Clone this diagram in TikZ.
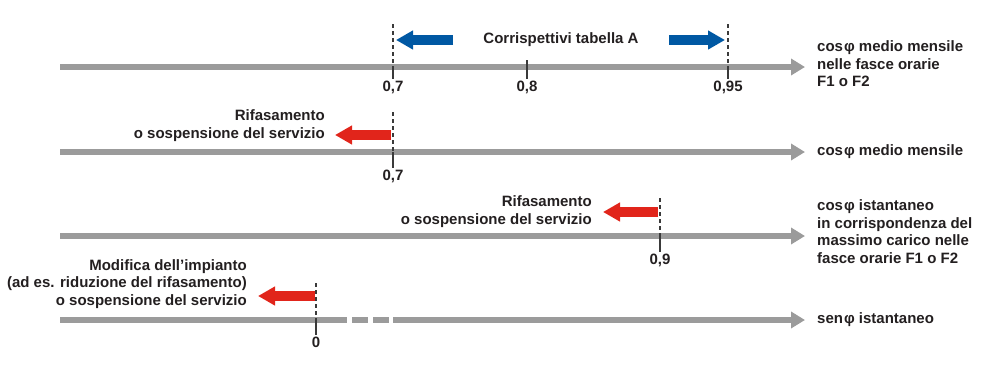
\documentclass[tikz,border=0pt]{standalone}
\usepackage{fontspec}
\setmainfont{Liberation Sans}
\usetikzlibrary{arrows.meta}
\definecolor{axisgray}{HTML}{9B9B9B}
\definecolor{tickgray}{HTML}{3A3A3A}
\definecolor{ink}{HTML}{231F20}
\definecolor{blue}{HTML}{0058A3}
\definecolor{red}{HTML}{E1251B}
\newcommand{\phiq}{\kern1pt φ}

\begin{document}
\begin{tikzpicture}[x=1pt,y=-1pt,
font=\fontsize{15}{17.5}\selectfont\bfseries,text=ink,
axis/.style={draw=axisgray,line width=6pt,
  -{Triangle[length=14pt,width=16pt]}},
dtick/.style={draw=tickgray,line width=1.2pt,dash pattern=on 4pt off 3pt},
stick/.style={draw=tickgray,line width=1.2pt},
val/.style={inner sep=1pt},
blk/.style={line width=10pt,-{Triangle[length=17pt,width=18pt]}},
lbl/.style={align=right,anchor=east,inner sep=0pt},
qty/.style={align=left,anchor=west,inner sep=0pt}]
\useasboundingbox (0,0) rectangle (985,367);
% axis 1: cos phi medio mensile nelle fasce F1 o F2
\coordinate (a1s) at (60,67);\coordinate (a1e) at (805,67);
\draw[axis] (a1s)--(a1e);
\node[val] (v1a) at (393,87) {0,7};
\node[val] (v1b) at (527,87) {0,8};
\node[val] (v1c) at (728,87) {0,95};
\coordinate (d1a) at (393,24);\coordinate (d1b) at (527,60);\coordinate (d1c) at (728,24);
\draw[dtick] (d1a)--(d1a|-a1s);\draw[stick] (d1a|-a1s)--(v1a);
\draw[stick] (d1b)--(v1b);
\draw[dtick] (d1c)--(d1c|-a1s);\draw[stick] (d1c|-a1s)--(v1c);
\node (corr) at (561,40) {Corrispettivi tabella A};
\coordinate (b1s) at (453,40);\coordinate (b1e) at (396,40);
\coordinate (b2s) at (669,40);\coordinate (b2e) at (725,40);
\draw[blk,blue] (b1s)--(b1e);\draw[blk,blue] (b2s)--(b2e);
\node[qty] (q1) at (817,64) {cos\phiq{} medio mensile\\nelle fasce orarie\\F1 o F2};
% axis 2: cos phi medio mensile
\coordinate (a2s) at (60,152);\coordinate (a2e) at (805,152);
\draw[axis] (a2s)--(a2e);
\node[val] (v2) at (393,176) {0,7};
\coordinate (d2) at (393,112);
\draw[dtick] (d2)--(d2|-a2s);\draw[stick] (d2|-a2s)--(v2);
\coordinate (r2s) at (391,135);\coordinate (r2e) at (335,135);
\draw[blk,red] (r2s)--(r2e);
\node[lbl] (t2) at (325,125.5) {Rifasamento\\o sospensione del servizio};
\node[qty] (q2) at (817,152) {cos\phiq{} medio mensile};
% axis 3: cos phi istantaneo
\coordinate (a3s) at (60,236);\coordinate (a3e) at (805,236);
\draw[axis] (a3s)--(a3e);
\node[val] (v3) at (660,260) {0,9};
\coordinate (d3) at (660,198);
\draw[dtick] (d3)--(d3|-a3s);\draw[stick] (d3|-a3s)--(v3);
\coordinate (r3s) at (658,212);\coordinate (r3e) at (603,212);
\draw[blk,red] (r3s)--(r3e);
\node[lbl] (t3) at (592,211.5) {Rifasamento\\o sospensione del servizio};
\node[qty] (q3) at (817,231.5) {cos\phiq{} istantaneo\\in corrispondenza del\\massimo carico nelle\\fasce orarie F1 o F2};
% axis 4: sen phi istantaneo, broken line
\coordinate (a4s) at (60,320);\coordinate (a4e) at (805,320);
\draw[axis,dash pattern=on 287pt off 5pt on 16pt off 5pt on 16pt off 4pt on 600pt] (a4s)--(a4e);
\node[val] (v4) at (316,342) {0};
\coordinate (d4) at (316,283);
\draw[dtick] (d4)--(d4|-a4s);\draw[stick] (d4|-a4s)--(v4);
\coordinate (r4s) at (315,296);\coordinate (r4e) at (258,296);
\draw[blk,red] (r4s)--(r4e);
\node[lbl] (t4) at (247,284) {Modifica dell’impianto\\(ad es. riduzione del rifasamento)\\o sospensione del servizio};
\node[qty] (q4) at (817,320) {sen\phiq{} istantaneo};
\end{tikzpicture}
\end{document}
